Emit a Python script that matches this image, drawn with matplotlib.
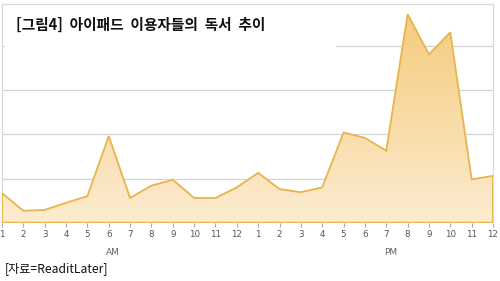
import numpy as np
import matplotlib
matplotlib.use("Agg")
import matplotlib.pyplot as plt
from matplotlib.colors import LinearSegmentedColormap

plt.rcParams['font.family'] = ['Noto Sans CJK KR', 'DejaVu Sans']

hours = [str(h) for h in range(1, 13)] * 2
values = [0.67, 0.27, 0.29, 0.45, 0.60, 1.96, 0.56, 0.84, 0.97, 0.56, 0.56, 0.80,
          1.13, 0.76, 0.69, 0.80, 2.04, 1.92, 1.63, 4.72, 3.81, 4.31, 0.98, 1.06]
period_labels = ["AM", "PM"]
title = "[그림4]  아이패드  이용자들의  독서  추이"
source = "[자료=ReaditLater]"

x = np.arange(len(values))

fig = plt.figure(figsize=(5, 2.81), dpi=100)
ax = fig.add_axes([2/500, (281-222.7)/281, 491/500, (222.7-4)/281])
ax.set_xlim(0, len(values) - 1)
ax.set_ylim(0, 4.95)

# grid
for g in [1, 2, 3, 4]:
    ax.axhline(g, color='#d4d4d4', lw=0.9, zorder=1)

# gradient fill clipped by polygon
poly = ax.fill_between(x, 0, values, facecolor='none', edgecolor='none', zorder=2)
cmap = LinearSegmentedColormap.from_list('g', ['#fcecd0', '#f5c875'])
grad = np.linspace(0, 1, 256).reshape(-1, 1)
im = ax.imshow(grad, extent=[0, len(values) - 1, 0, 4.95], origin='lower',
               aspect='auto', cmap=cmap, vmin=0, vmax=1.05, zorder=2)
im.set_clip_path(poly.get_paths()[0], transform=ax.transData)

# outline
ox = np.concatenate([[0], x, [x[-1], 0]])
oy = np.concatenate([[0], values, [0, 0]])
ax.plot(ox, oy, color='#e8b44c', lw=1.3, zorder=3, solid_joinstyle='miter')

# white title box covering part of the top grid line
ax.add_patch(plt.Rectangle((0.15, 3.6), 15.5, 1.3, facecolor='white',
                           edgecolor='none', zorder=1.5))

for s in ax.spines.values():
    s.set_color('#d8d8d8')
    s.set_linewidth(0.9)
ax.spines['bottom'].set_visible(False)

ax.set_yticks([])
ax.set_xticks(x)
ax.set_xticklabels(hours, fontsize=6.3, color='#555555', family=['DejaVu Sans'])
ax.tick_params(axis='x', length=3, width=0.8, color='#aaaaaa', pad=2.5)

ax.text(5.2, -0.68, period_labels[0], fontsize=6.5, color='#666666',
        ha='center', va='center', family=['DejaVu Sans'])
ax.text(18.2, -0.68, period_labels[1], fontsize=6.5, color='#666666',
        ha='center', va='center', family=['DejaVu Sans'])

fig.text(16/500, 1 - 25/281, title, fontsize=10.6, fontweight='bold',
         color='#111111', ha='left', va='center')
fig.text(5/500, 1 - 269/281, source, fontsize=8.7, color='#111111',
         ha='left', va='center')

fig.savefig('out.png', dpi=100)
